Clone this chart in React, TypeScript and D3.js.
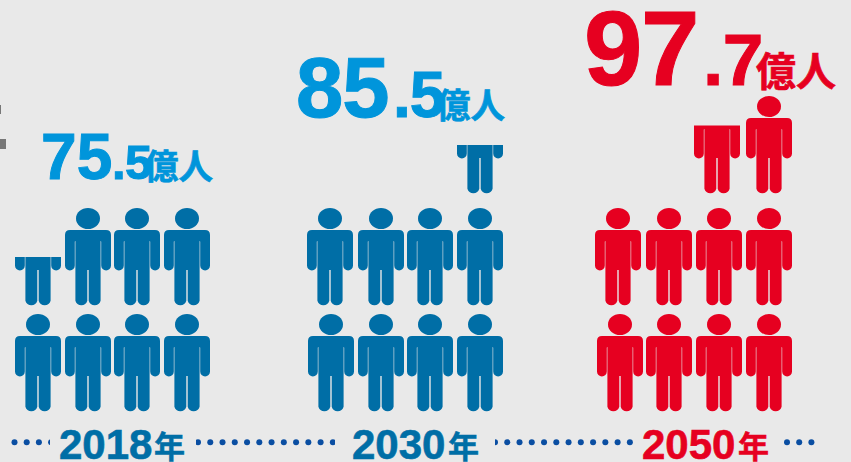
import React from "react";
import * as d3 from "d3";

const years = ["2018", "2030", "2050"];
const yearSuffix = "年";
const unit = "億人";
const wholeParts = ["75", "85", "97"];
const decimalParts = [".5", ".5", ".7"];
// filled share of each figure: row 0 is the bottom row, four columns per row
const fills2018 = [[1, 1, 1, 1], [0.5, 1, 1, 1]];
const fills2030 = [[1, 1, 1, 1], [1, 1, 1, 1], [0, 0, 0, 0.5]];
const fills2050 = [[1, 1, 1, 1], [1, 1, 1, 1], [0, 0, 0.7, 1]];
const allFills = [fills2018, fills2030, fills2050];

// layout
const W = 851, H = 462;
const BG = "#e9e9e9";
const PERSON = ["#006ea6", "#006ea6", "#e60020"];
const NUM = ["#0095db", "#0095db", "#e60020"];
const YEARC = ["#006ea6", "#006ea6", "#e60020"];
const DOT = "#0a4ea2";
const FONT = "'Liberation Sans', Arial, sans-serif";
const CJK = "'Noto Sans CJK JP', 'Noto Sans CJK SC', sans-serif";
const PW = 46, PH = 98;
const rowY = d3.scaleOrdinal<number, number>().domain([0, 1, 2]).range([412, 306, 194]);
const colX = [
  [[15, 65, 114, 164], [15, 65, 114, 164]],
  [[308, 358, 407, 457], [307, 358, 407, 457], [307, 358, 407, 457]],
  [[597, 646, 696, 746], [595, 646, 696, 746], [595, 646, 694, 746]],
];
const numLayout = [
  { x: 41, y: 179, big: 64, bigLs: 0.2, dx: 112, mid: 49, midLs: -0.5, ux: 144, uy: 179, us: 34.5 },
  { x: 296, y: 117, big: 85, bigLs: -1, dx: 393, mid: 64, midLs: -1, ux: 436, uy: 118, us: 34.5 },
  { x: 584, y: 85, big: 105, bigLs: -1.5, dx: 703, mid: 73, midLs: -0.5, ux: 756, uy: 86, us: 40 },
];
const yearLayout = [
  { x: 59, s: 42, ux: 154, us: 31 },
  { x: 352, s: 42, ux: 448, us: 31 },
  { x: 642, s: 42, ux: 738, us: 31 },
];
const dotRuns: [number, number, number][] = [
  [14.5, 12.2, 4],
  [198, 12.26, 12],
  [495, 12.26, 12],
  [787, 12.2, 3],
];

const personBody = [
  `M5,22 H41 Q46,22 46,27 V57.5 A4.9,4.9 0 0 1 36.2,57.5 V34 Q36.2,33 35.6,33 V92.8`,
  `A6.2,6.2 0 0 1 23.7,92.8 V62 H22.3 V92.8 A6.2,6.2 0 0 1 10.4,92.8 V33 Q9.8,33 9.8,34 V57.5`,
  `A4.9,4.9 0 0 1 0,57.5 V27 Q0,22 5,22 Z`,
].join(" ");

function Person({ x, bottom, fill, color, id }: { x: number; bottom: number; fill: number; color: string; id: string }) {
  const y = d3.scaleLinear().domain([0, 1]).range([bottom, bottom - PH]);
  const top = y(fill);
  return (
    <g>
      <clipPath id={id}>
        <rect x={x - 1} y={top} width={PW + 2} height={bottom - top + 1} />
      </clipPath>
      <g clipPath={`url(#${id})`} fill={color}>
        <g transform={`translate(${x},${bottom - PH})`}>
          <ellipse cx={23} cy={10.5} rx={12} ry={10.5} />
          <path d={personBody} />
        </g>
      </g>
    </g>
  );
}

export default function App() {
  return (
    <svg width={W} height={H} viewBox={`0 0 ${W} ${H}`} style={{ position: "absolute", left: 0, top: 0, background: BG }}>
      <rect width={W} height={H} fill={BG} />
      <rect x={0} y={105} width={1} height={9} fill="#777" />
      <rect x={0} y={139} width={6} height={10} fill="#777" />

      {dotRuns.map(([start, step, n], i) =>
        d3.range(n).map((k) => <circle key={`${i}-${k}`} cx={start + k * step} cy={442.3} r={3} fill={DOT} />)
      )}
      <rect x={50} y={425} width={146} height={37} fill={BG} />
      <rect x={335} y={425} width={160} height={37} fill={BG} />

      {allFills.map((rows, g) =>
        rows.map((row, ri) =>
          row.map((f, c) =>
            f > 0 ? (
              <Person key={`${g}-${ri}-${c}`} id={`c${g}-${ri}-${c}`} x={colX[g][ri][c]} bottom={rowY(ri)} fill={f} color={PERSON[g]} />
            ) : null
          )
        )
      )}

      {years.map((yr, i) => {
        const n = numLayout[i];
        const l = yearLayout[i];
        return (
          <g key={yr}>
            <g fill={NUM[i]} stroke={NUM[i]} fontWeight={700}>
              <text x={n.x} y={n.y} fontFamily={FONT} fontSize={n.big} letterSpacing={n.bigLs} strokeWidth={1}>{wholeParts[i]}</text>
              <text x={n.dx} y={n.y} fontFamily={FONT} fontSize={n.mid} letterSpacing={n.midLs} strokeWidth={1}>{decimalParts[i]}</text>
              <text x={n.ux} y={n.uy} fontFamily={CJK} fontSize={n.us} strokeWidth={0.7}>{unit}</text>
            </g>
            <g fill={YEARC[i]} stroke={YEARC[i]} fontWeight={700}>
              <text x={l.x} y={458.5} fontFamily={FONT} fontSize={l.s} strokeWidth={0.6}>{yr}</text>
              <text x={l.ux} y={458} fontFamily={CJK} fontSize={l.us} strokeWidth={0.5}>{yearSuffix}</text>
            </g>
          </g>
        );
      })}
    </svg>
  );
}
